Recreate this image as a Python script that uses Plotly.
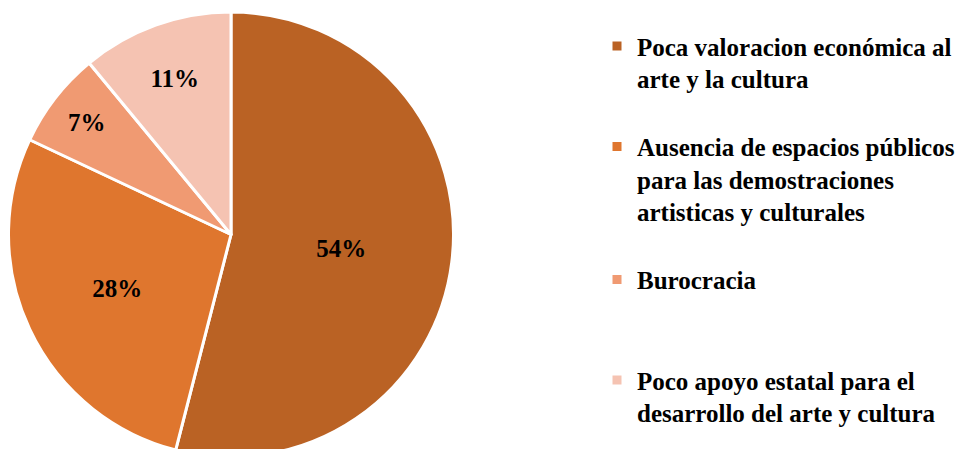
import plotly.graph_objects as go

labels = [
    "Poca valoracion económica al<br>arte y la cultura",
    "Ausencia de espacios públicos<br>para las demostraciones<br>artisticas y culturales",
    "Burocracia",
    "Poco apoyo estatal para el<br>desarrollo del arte y cultura",
]
values = [54, 28, 7, 11]
colors = ["#BA6224", "#DF762E", "#F09A72", "#F5C3B2"]

# blank lines after each legend entry to spread them down the right side
pad = [1, 1, 2, 0]
legend_labels = ["<b>" + lab.replace("<br>", "</b><br><b>") + "</b>" + "<br> " * p
                 for lab, p in zip(labels, pad)]

W, H = 980, 449
SERIF = "Times New Roman, Liberation Serif, serif"

fig = go.Figure(
    go.Pie(
        labels=legend_labels,
        values=values,
        sort=False,
        direction="clockwise",
        rotation=0,
        marker=dict(colors=colors, line=dict(color="white", width=3)),
        texttemplate="<b>%{percent:.0%}</b>",
        textposition="inside",
        insidetextorientation="horizontal",
        textfont=dict(family=SERIF, size=25, color="black"),
        domain=dict(x=[0, 446 / W], y=[0, 1]),
        hoverinfo="label+percent",
    )
)

fig.update_layout(
    width=W,
    height=H,
    margin=dict(l=0, r=0, t=4, b=0),
    paper_bgcolor="white",
    plot_bgcolor="white",
    font=dict(family=SERIF, color="black"),
    legend=dict(
        x=589 / W,
        y=0.975,
        xanchor="left",
        yanchor="top",
        valign="top",
        font=dict(family=SERIF, size=25, color="black"),
        tracegroupgap=0,
        itemclick=False,
    ),
    uniformtext=dict(minsize=25, mode="show"),
)

fig.write_html("out.html")
